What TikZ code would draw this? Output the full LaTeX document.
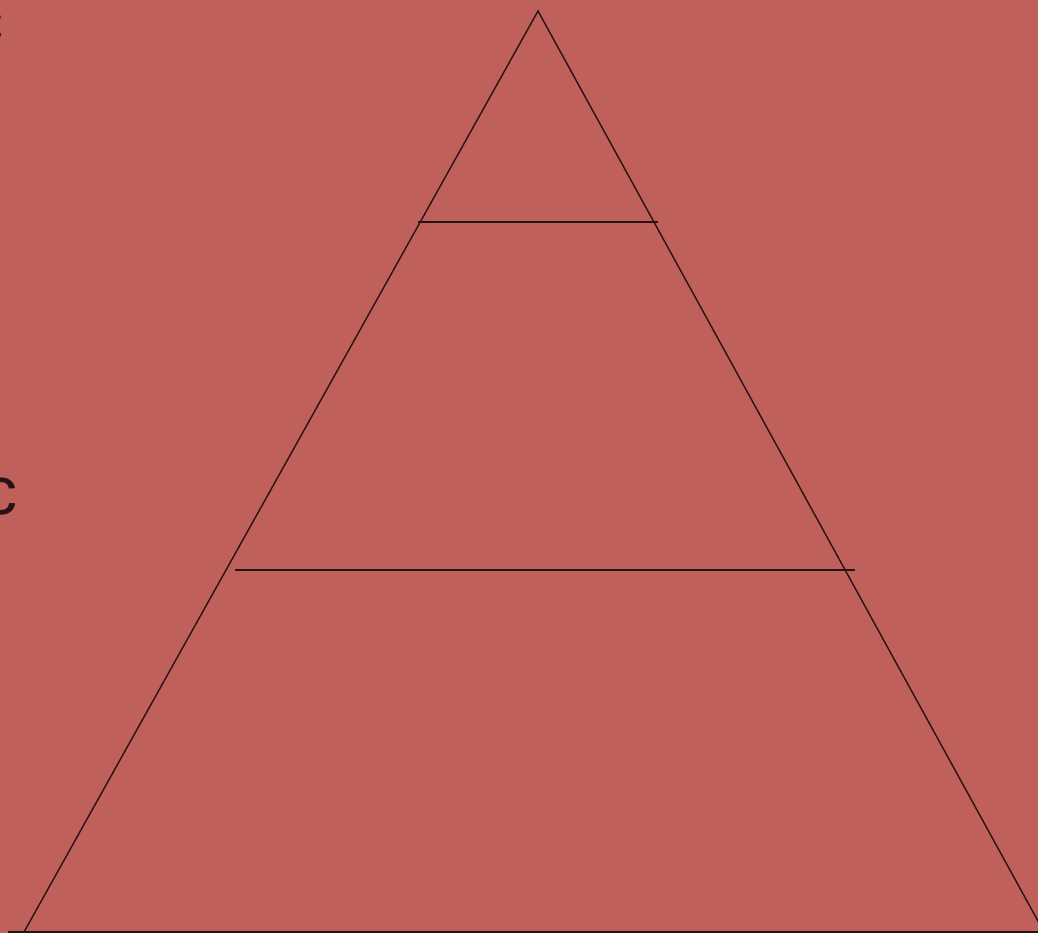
\documentclass[tikz,border=0pt]{standalone}
\usepackage{fontspec}
\setmainfont{Liberation Sans}
\usetikzlibrary{positioning}
\definecolor{bgred}{RGB}{192,96,90}
\definecolor{inkdark}{RGB}{38,20,20}

\begin{document}
\begin{tikzpicture}[
    x=1pt, y=-1pt,
    edge/.style={draw=inkdark, line width=1.4pt},
    lbl/.style={inner sep=0pt, text=inkdark, font=\fontsize{68}{70}\selectfont}
]
\useasboundingbox (0,0) rectangle (1038,933);
\fill[bgred] (0,0) rectangle (1038,933);
\clip (0,0) rectangle (1038,933);

% triangle
\coordinate (apex) at (538,11);
\coordinate (baseL) at (24,932);
\coordinate (baseR) at (1044,932);
\draw[edge] (baseL) -- (apex) -- (baseR);
\draw[edge] (8,932) -- (1040,932);

% levels
\coordinate (upL) at (418,222);
\coordinate (upR) at (658,222);
\coordinate (midL) at (235,570);
\coordinate (midR) at (855,570);
\draw[edge] (upL) -- (upR);
\draw[edge] (midL) -- (midR);

% labels cut at the left edge
\node[lbl, anchor=east] (topc) at (4,27) {c};
\node[lbl, anchor=east] (midc) at (18,497) {c};
\end{tikzpicture}
\end{document}
